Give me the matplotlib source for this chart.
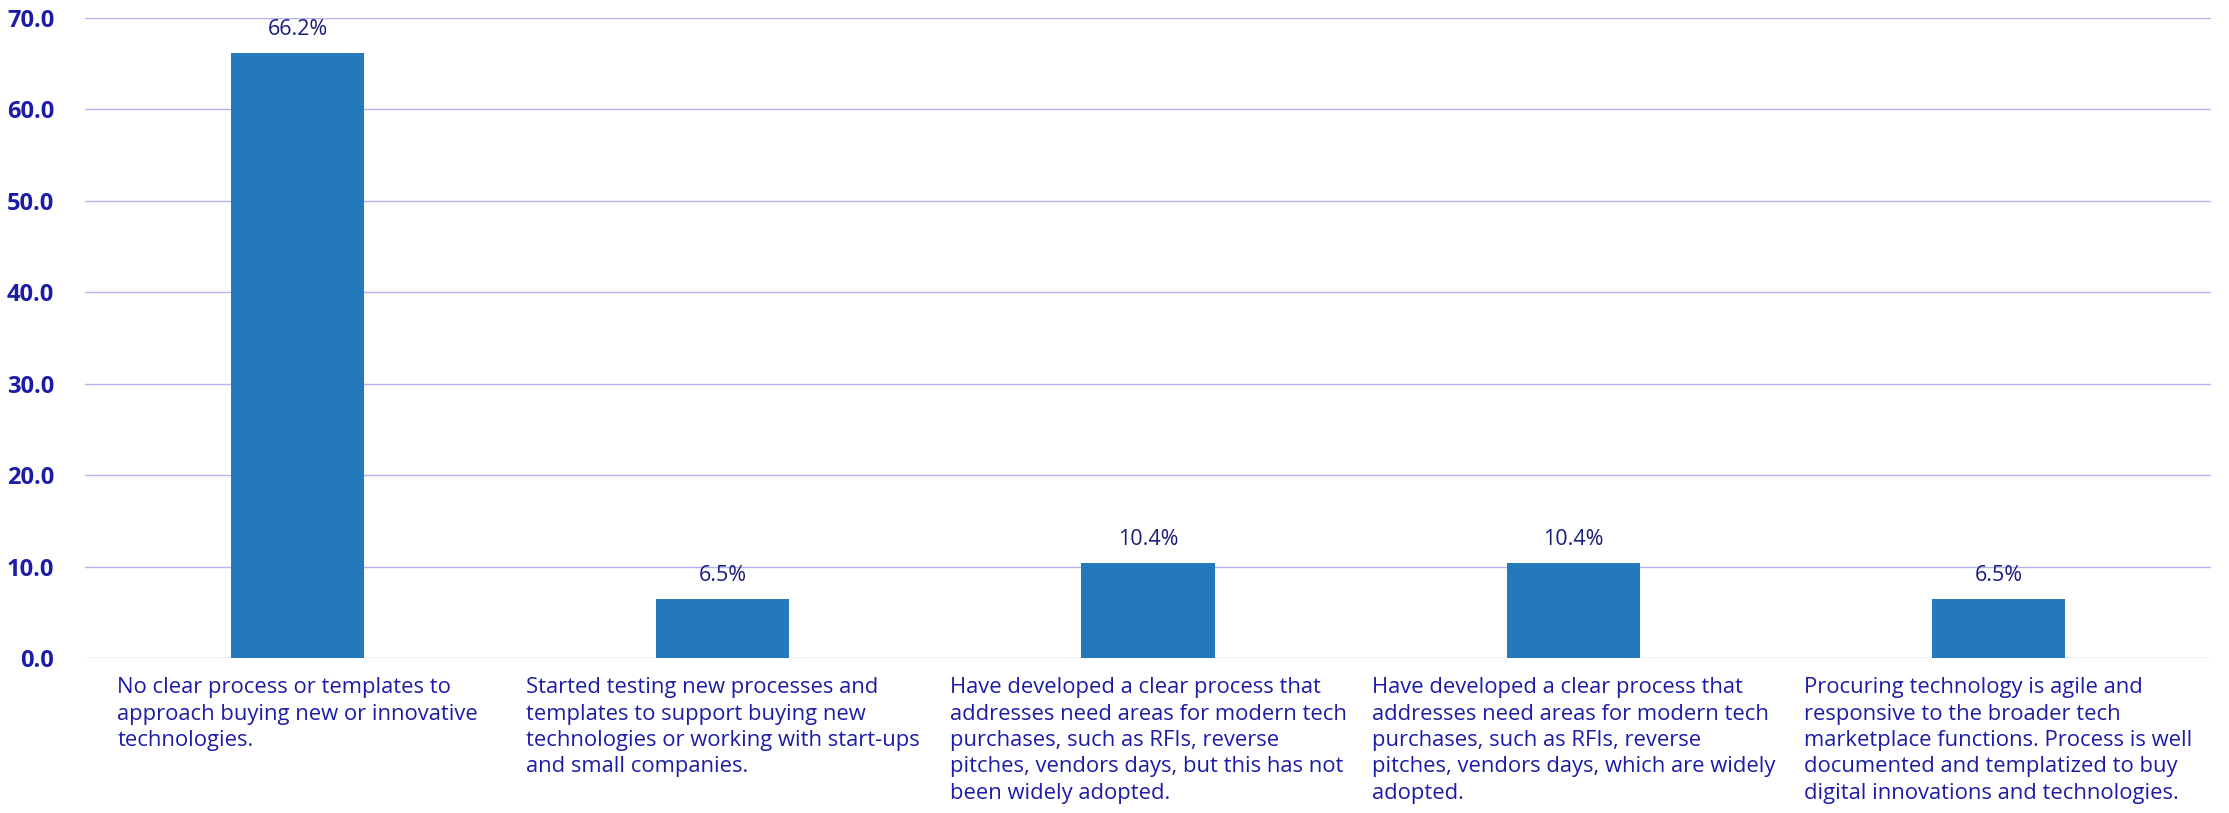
import matplotlib
matplotlib.use("Agg")
import matplotlib.pyplot as plt
import numpy as np

# Respostas sobre maturidade de compras de tecnologia
categorias = [
    "No clear process or templates to\napproach buying new or innovative\ntechnologies.",
    "Started testing new processes and\ntemplates to support buying new\ntechnologies or working with start-ups\nand small companies.",
    "Have developed a clear process that\naddresses need areas for modern tech\npurchases, such as RFIs, reverse\npitches, vendors days, but this has not\nbeen widely adopted.",
    "Have developed a clear process that\naddresses need areas for modern tech\npurchases, such as RFIs, reverse\npitches, vendors days, which are widely\nadopted.",
    "Procuring technology is agile and\nresponsive to the broader tech\nmarketplace functions. Process is well\ndocumented and templatized to buy\ndigital innovations and technologies.",
]
percentuais = [66.2, 6.5, 10.4, 10.4, 6.5]
yticks = [0, 10, 20, 30, 40, 50, 60, 70]

COR_BARRA = "#2479bc"
COR_GRADE = "#b3b3f2"
COR_TEXTO = "#1c1ca6"
COR_ROTULO = "#1b1b7c"
FONTE = ["Open Sans", "DejaVu Sans"]

fig = plt.figure(figsize=(22.29, 8.13), dpi=100)
ax = fig.add_axes([0.0381, 0.1907, 0.9539, 0.7872])

x = np.arange(len(categorias))
barras = ax.bar(x, percentuais, width=0.313, color=COR_BARRA, zorder=3)

ax.set_xlim(-0.5, len(categorias) - 0.5)
ax.set_ylim(0, 70)
ax.set_yticks(yticks)
ax.set_yticklabels([f"{v:.1f}" for v in yticks], fontsize=17,
                   fontweight="bold", color=COR_TEXTO, family=FONTE)
ax.tick_params(axis="y", length=0, pad=22)
ax.set_xticks([])
ax.grid(axis="y", color=COR_GRADE, linewidth=1.0, zorder=0)
for s in ax.spines.values():
    s.set_visible(False)

# rótulos de valor acima das barras
for b, v in zip(barras, percentuais):
    ax.annotate(f"{v:.1f}%", (b.get_x() + b.get_width() / 2, v),
                xytext=(0, 9), textcoords="offset points",
                ha="center", va="bottom", fontsize=15.5,
                color=COR_ROTULO, family=FONTE)

# rótulos das categorias abaixo do eixo
for xi, rot in zip(x, categorias):
    ax.annotate(rot, (xi, 0), xycoords=("data", "axes fraction"),
                xytext=(0, -14), textcoords="offset points",
                ha="center", va="top", multialignment="left",
                fontsize=15.8, color=COR_TEXTO, family=FONTE,
                linespacing=1.33)

fig.savefig("out.png", dpi=100)
